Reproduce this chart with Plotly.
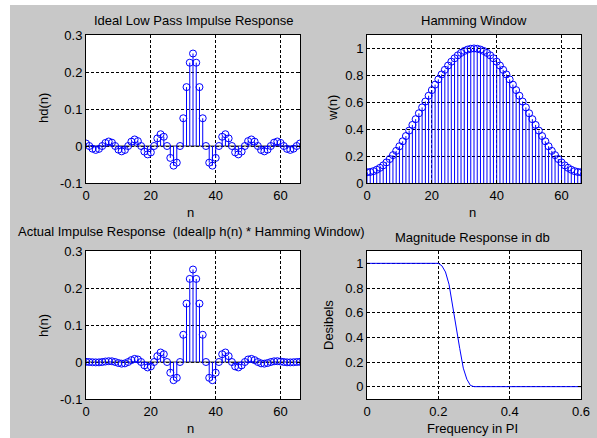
import plotly.graph_objects as go

FONT = "Liberation Sans, Arial, sans-serif"
W, H = 597, 438

# ---------------- data ----------------
n = list(range(67))

hd = [0.0068, 0.0, -0.0073, -0.0106, -0.0078, 0.0, 0.0083, 0.0122, 0.0090, 0.0,
      -0.0098, -0.0145, -0.0107, 0.0, 0.0118, 0.0177, 0.0132, 0.0, -0.0150, -0.0227,
      -0.0173, 0.0, 0.0205, 0.0318, 0.0250, 0.0, -0.0322, -0.0531, -0.0450, 0.0,
      0.0750, 0.1592, 0.2251, 0.2500, 0.2251, 0.1592, 0.0750, 0.0, -0.0450, -0.0531,
      -0.0322, 0.0, 0.0250, 0.0318, 0.0205, 0.0, -0.0173, -0.0227, -0.0150, 0.0,
      0.0132, 0.0177, 0.0118, 0.0, -0.0107, -0.0145, -0.0098, 0.0, 0.0090, 0.0122,
      0.0083, 0.0, -0.0078, -0.0106, -0.0073, 0.0, 0.0068]

w = [0.0800, 0.0821, 0.0883, 0.0986, 0.1130, 0.1311, 0.1530, 0.1784, 0.2071, 0.2388,
     0.2732, 0.3100, 0.3489, 0.3896, 0.4316, 0.4745, 0.5181, 0.5619, 0.6055, 0.6484,
     0.6904, 0.7311, 0.7700, 0.8068, 0.8412, 0.8729, 0.9016, 0.9270, 0.9489, 0.9670,
     0.9814, 0.9917, 0.9979, 1.0000, 0.9979, 0.9917, 0.9814, 0.9670, 0.9489, 0.9270,
     0.9016, 0.8729, 0.8412, 0.8068, 0.7700, 0.7311, 0.6904, 0.6484, 0.6055, 0.5619,
     0.5181, 0.4745, 0.4316, 0.3896, 0.3489, 0.3100, 0.2732, 0.2388, 0.2071, 0.1784,
     0.1530, 0.1311, 0.1130, 0.0986, 0.0883, 0.0821, 0.0800]

h = [0.0005, 0.0, -0.0006, -0.0010, -0.0009, 0.0, 0.0013, 0.0022, 0.0019, 0.0,
     -0.0027, -0.0045, -0.0037, 0.0, 0.0051, 0.0084, 0.0068, 0.0, -0.0091, -0.0147,
     -0.0119, 0.0, 0.0158, 0.0257, 0.0210, 0.0, -0.0290, -0.0492, -0.0427, 0.0,
     0.0736, 0.1579, 0.2246, 0.2500, 0.2246, 0.1579, 0.0736, 0.0, -0.0427, -0.0492,
     -0.0290, 0.0, 0.0210, 0.0257, 0.0158, 0.0, -0.0119, -0.0147, -0.0091, 0.0,
     0.0068, 0.0084, 0.0051, 0.0, -0.0037, -0.0045, -0.0027, 0.0, 0.0019, 0.0022,
     0.0013, 0.0, -0.0009, -0.0010, -0.0006, 0.0, 0.0005]

freq = [0.0, 0.02, 0.03, 0.05, 0.08, 0.10, 0.12, 0.15, 0.18, 0.19, 0.20, 0.21,
        0.22, 0.23, 0.24, 0.25, 0.26, 0.27, 0.28, 0.29, 0.30, 0.40, 0.50, 0.60]
mag = [1.0, 1.0, 1.003, 1.0, 0.999, 1.002, 1.0, 0.999, 1.002, 1.003, 1.0, 0.98,
       0.93, 0.83, 0.65, 0.48, 0.31, 0.15, 0.06, 0.01, 0.0, 0.0, 0.0, 0.0]

n_ticks = [0, 20, 40, 60]
h_ticks = [-0.1, 0, 0.1, 0.2, 0.3]
h_tick_labels = ["-0.1", "0", "0.1", "0.2", "0.3"]
w_ticks = [0, 0.2, 0.4, 0.6, 0.8, 1]
w_tick_labels = ["0", "0.2", "0.4", "0.6", "0.8", "1"]
f_ticks = [0, 0.2, 0.4, 0.6]
f_tick_labels = ["0", "0.2", "0.4", "0.6"]
m_ticks = [0, 0.2, 0.4, 0.6, 0.8, 1]
m_tick_labels = ["0", "0.2", "0.4", "0.6", "0.8", "1"]

titles = ["Ideal Low Pass Impulse Response", "Hamming Window",
          "Actual Impulse Response  (Ideal|p h(n) * Hamming Window)",
          "Magnitude Response in db"]
xlabels = ["n", "n", "n", "Frequency in PI"]
ylabels = ["hd(n)", "w(n)", "h(n)", "Desibels"]

BLUE = "#0000ff"

fig = go.Figure()


def add_stem(xs, ys, xa, ya, baseline=True):
    sx, sy = [], []
    for xv, yv in zip(xs, ys):
        sx += [xv, xv, None]
        sy += [0, yv, None]
    if baseline:
        fig.add_trace(go.Scatter(x=[xs[0], xs[-1]], y=[0, 0], mode="lines",
                                 line=dict(color="#303030", width=1),
                                 xaxis=xa, yaxis=ya, hoverinfo="skip", showlegend=False))
    fig.add_trace(go.Scatter(x=sx, y=sy, mode="lines", line=dict(color=BLUE, width=1),
                             xaxis=xa, yaxis=ya, hoverinfo="skip", showlegend=False))
    fig.add_trace(go.Scatter(x=xs, y=ys, mode="markers",
                             marker=dict(symbol="circle-open", size=7, color=BLUE,
                                         line=dict(width=1, color=BLUE)),
                             xaxis=xa, yaxis=ya, showlegend=False))


add_stem(n, hd, "x", "y")
add_stem(n, w, "x2", "y2", baseline=False)
add_stem(n, h, "x3", "y3")
fig.add_trace(go.Scatter(x=freq, y=mag, mode="lines", line=dict(color=BLUE, width=1),
                         xaxis="x4", yaxis="y4", showlegend=False))


def px_x(a, b):
    return [a / W, b / W]


def px_y(top, bottom):
    return [1 - bottom / H, 1 - top / H]


LX = px_x(86, 300)
RX = px_x(367, 581)
TY = px_y(35, 183)
BY = px_y(251, 399)

common = dict(showline=True, linecolor="black", linewidth=1, mirror="ticks",
              ticks="inside", ticklen=3, tickcolor="black", showgrid=True,
              gridcolor="black", griddash="3px,2px", gridwidth=1, zeroline=False,
              automargin=False,
              tickfont=dict(family=FONT, size=13, color="black"), fixedrange=True)

fig.update_layout(
    width=W, height=H,
    margin=dict(l=0, r=0, t=0, b=0, pad=0),
    paper_bgcolor="#c8c8c8", plot_bgcolor="white",
    showlegend=False,
    xaxis=dict(domain=LX, anchor="y", range=[0, 66], tickmode="array",
               tickvals=n_ticks, ticktext=[str(t) for t in n_ticks], **common),
    yaxis=dict(domain=TY, anchor="x", range=[-0.1, 0.3], tickmode="array",
               tickvals=h_ticks, ticktext=h_tick_labels, **common),
    xaxis2=dict(domain=RX, anchor="y2", range=[0, 66], tickmode="array",
                tickvals=n_ticks, ticktext=[str(t) for t in n_ticks], **common),
    yaxis2=dict(domain=TY, anchor="x2", range=[0, 1.1], tickmode="array",
                tickvals=w_ticks, ticktext=w_tick_labels, **common),
    xaxis3=dict(domain=LX, anchor="y3", range=[0, 66], tickmode="array",
                tickvals=n_ticks, ticktext=[str(t) for t in n_ticks], **common),
    yaxis3=dict(domain=BY, anchor="x3", range=[-0.1, 0.3], tickmode="array",
                tickvals=h_ticks, ticktext=h_tick_labels, **common),
    xaxis4=dict(domain=RX, anchor="y4", range=[0, 0.6], tickmode="array",
                tickvals=f_ticks, ticktext=f_tick_labels, **common),
    yaxis4=dict(domain=BY, anchor="x4", range=[-0.1, 1.1], tickmode="array",
                tickvals=m_ticks, ticktext=m_tick_labels, **common),
)

# white border strips at top and left of the picture
fig.add_shape(type="rect", xref="paper", yref="paper", x0=0, x1=10 / W, y0=0, y1=1,
              fillcolor="white", line=dict(width=0), layer="above")
fig.add_shape(type="rect", xref="paper", yref="paper", x0=0, x1=1, y0=1 - 5 / H, y1=1,
              fillcolor="white", line=dict(width=0), layer="above")

txt = dict(family=FONT, size=13, color="black")


def ann(text, xpx, ypx, angle=0):
    fig.add_annotation(text=text, x=xpx / W, y=1 - ypx / H, xref="paper", yref="paper",
                       showarrow=False, xanchor="center", yanchor="middle",
                       textangle=angle, font=txt)


# titles
ann(titles[0], 193, 20)
ann(titles[1], 474, 20)
ann(titles[2], 191, 231)
ann(titles[3], 473, 237)
# x labels
ann(xlabels[0], 190, 212)
ann(xlabels[1], 472, 212)
ann(xlabels[2], 190, 428)
ann(xlabels[3], 472, 428)
# y labels
ann(ylabels[0], 43, 108, -90)
ann(ylabels[1], 332, 108, -90)
ann(ylabels[2], 43, 326, -90)
ann(ylabels[3], 328, 325, -90)

fig.write_html(
    "out.html",
    config={"displayModeBar": False},
    post_script=(
        "document.body.style.margin='0';"
        "document.documentElement.style.overflow='hidden';"
    ),
)
